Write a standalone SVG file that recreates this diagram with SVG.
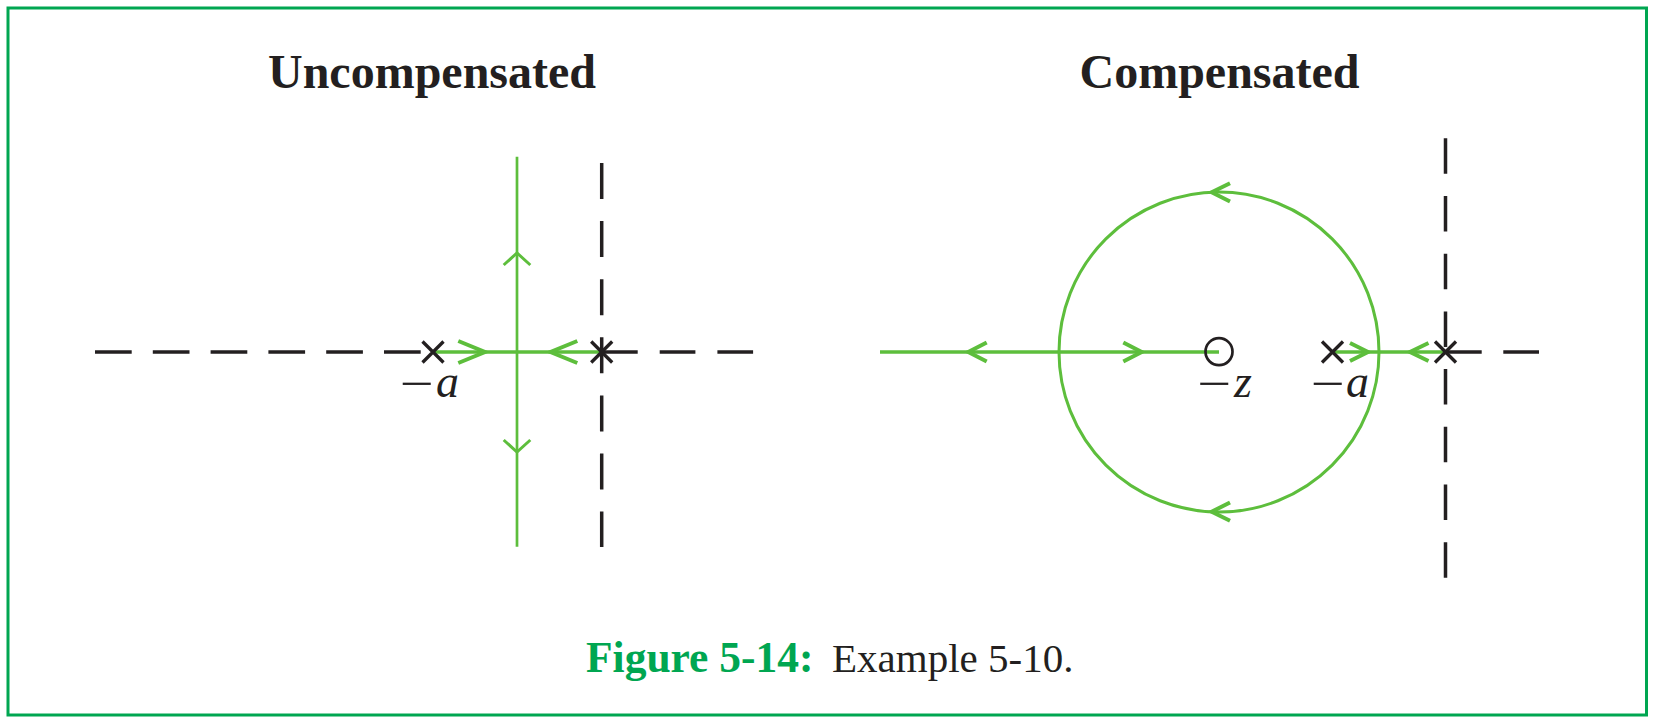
<svg xmlns="http://www.w3.org/2000/svg" width="1653" height="723" viewBox="0 0 1653 723">
<style>
.frame{fill:none;stroke:#00A651;stroke-width:3}
.title{font-family:"Liberation Serif","Times New Roman",serif;font-weight:bold;font-size:48px;fill:#231F20;text-anchor:middle}
.dash{stroke:#231F20;stroke-width:3.5;fill:none}
.loc{stroke:#5DBE3C;fill:none;stroke-width:3.3}
.arr{stroke:#5DBE3C;fill:none;stroke-width:4;stroke-linecap:butt;stroke-linejoin:miter}
.x{stroke:#231F20;stroke-width:3.3;fill:none}
.lab{font-family:"Liberation Serif","Times New Roman",serif;font-size:46px;fill:#231F20}
.it{font-style:italic}
.cap{font-family:"Liberation Serif","Times New Roman",serif}
</style>
<rect class="frame" x="8" y="8" width="1638.5" height="707"/>
<g id="titles">
<text class="title" x="432" y="88">Uncompensated</text>
<text class="title" x="1219.5" y="88">Compensated</text>
</g>
<g id="axes">
<line class="dash" x1="95" y1="352" x2="420.7" y2="352" stroke-dasharray="36.7 21.1"/>
<line class="dash" x1="602" y1="352" x2="753.5" y2="352" stroke-dasharray="35.7 22"/>
<line class="dash" x1="601.7" y1="163" x2="601.7" y2="547" stroke-dasharray="36 22.1"/>
<line class="dash" x1="1445.5" y1="138.3" x2="1445.5" y2="578.3" stroke-dasharray="35.5 22.2"/>
<line class="dash" x1="1445" y1="352" x2="1539" y2="352" stroke-dasharray="36.7 21.6"/>
</g>
<g id="connectors">
<line class="loc" x1="517" y1="156.7" x2="517" y2="546.7" style="stroke-width:2.7"/>
<line class="loc" x1="433" y1="352" x2="602" y2="352"/>
<line class="loc" x1="880" y1="352" x2="1219" y2="352" style="stroke-width:3.5"/>
<line class="loc" x1="1333" y1="352" x2="1445" y2="352" style="stroke-width:3.5"/>
<circle class="loc" cx="1219" cy="352" r="160" style="stroke-width:3"/>
<path class="arr" d="M458.3,341 L485,352 L458.3,363"/>
<path class="arr" d="M577.3,341 L550.5,352 L577.3,363"/>
<path class="arr" d="M503.7,265 L517,253 L530.3,265" style="stroke-width:3"/>
<path class="arr" d="M503.7,440 L517,452 L530.3,440" style="stroke-width:3"/>
<path class="arr" d="M986.7,342.5 L968.3,352 L986.7,361.5"/>
<path class="arr" d="M1123.3,342.5 L1141.7,352 L1123.3,361.5"/>
<path class="arr" d="M1230,183.2 L1211.7,192.3 L1230,201.5"/>
<path class="arr" d="M1230,502.5 L1211.7,511.7 L1230,520.8"/>
<path class="arr" d="M1350,343 L1368,352 L1350,361"/>
<path class="arr" d="M1428.5,343 L1410,352 L1428.5,361"/>
</g>
<g id="pole-a-left">
<path class="x" d="M422.5,341.5 L443.5,362.5 M443.5,341.5 L422.5,362.5"/>
<text class="lab" x="400" y="399" textLength="34" lengthAdjust="spacingAndGlyphs">−</text>
<text class="lab it" x="436" y="397">a</text>
</g>
<g id="pole-0-left">
<path class="x" d="M591.2,341.5 L612.2,362.5 M612.2,341.5 L591.2,362.5"/>
</g>
<g id="zero-z">
<circle cx="1219" cy="351.7" r="13.5" fill="none" stroke="#231F20" stroke-width="2.7"/>
<text class="lab" x="1197.5" y="399" textLength="34" lengthAdjust="spacingAndGlyphs">−</text>
<text class="lab it" x="1234" y="397">z</text>
</g>
<g id="pole-a-right">
<path class="x" d="M1322,341.5 L1343,362.5 M1343,341.5 L1322,362.5"/>
<text class="lab" x="1311" y="399" textLength="34" lengthAdjust="spacingAndGlyphs">−</text>
<text class="lab it" x="1346" y="397">a</text>
</g>
<g id="pole-0-right">
<path class="x" d="M1435,341.5 L1456,362.5 M1456,341.5 L1435,362.5"/>
</g>
<g id="caption">
<text class="cap" x="586" y="672" font-size="43.5" font-weight="bold" fill="#00A651">Figure 5-14:</text>
<text class="cap" x="832" y="672" font-size="41" fill="#231F20">Example 5-10.</text>
</g>
</svg>
